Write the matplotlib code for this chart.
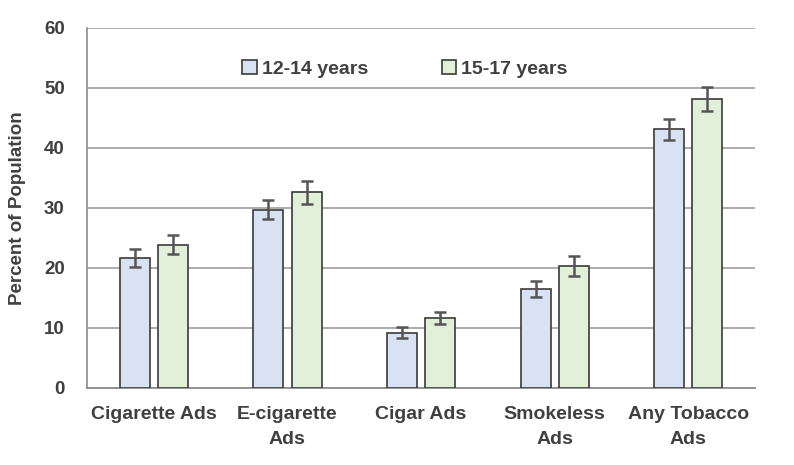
import numpy as np
import matplotlib.pyplot as plt

categories = ['Cigarette Ads', 'E-cigarette\nAds', 'Cigar Ads', 'Smokeless\nAds', 'Any Tobacco\nAds']
young = [21.6, 29.7, 9.2, 16.5, 43.1]
young_err = [1.5, 1.6, 0.9, 1.4, 1.7]
old = [23.9, 32.6, 11.6, 20.3, 48.1]
old_err = [1.6, 1.9, 1.0, 1.7, 2.0]
labels = ['12-14 years', '15-17 years']

plt.rcParams['font.family'] = ['Liberation Sans', 'DejaVu Sans']
txt = '#404040'

fig = plt.figure(figsize=(7.94, 4.65), dpi=100)
ax = fig.add_axes([0.1096, 0.1656, 0.8414, 0.7742])

x = np.arange(len(categories))
w = 0.225
ek = dict(ecolor='#555555', elinewidth=1.8, capsize=4, capthick=1.8)
ax.bar(x - 0.143, young, w, yerr=young_err, color='#d9e2f3', edgecolor='#3a3a3a',
       linewidth=1.2, label=labels[0], error_kw=ek, zorder=3)
ax.bar(x + 0.143, old, w, yerr=old_err, color='#e2efd9', edgecolor='#3a3a3a',
       linewidth=1.2, label=labels[1], error_kw=ek, zorder=3)

ax.set_xlim(-0.5, 4.5)
ax.set_ylim(0, 60)
ax.set_yticks(range(0, 61, 10))
ax.yaxis.grid(True, color='#a6a6a6', linewidth=1.3, zorder=0)
ax.set_axisbelow(True)
for s in ['top', 'right']:
    ax.spines[s].set_visible(False)
ax.spines['left'].set_color('#8c8c8c')
ax.spines['bottom'].set_color('#8c8c8c')
ax.spines['left'].set_linewidth(1.2)
ax.spines['bottom'].set_linewidth(1.3)
ax.tick_params(axis='y', length=0, pad=16, labelsize=13.5, labelcolor=txt)
ax.tick_params(axis='x', length=0, pad=13)
ax.set_xticks(x)
ax.set_xticklabels(categories, fontweight='bold', fontsize=14, color=txt, linespacing=1.6)
for t in ax.get_yticklabels():
    t.set_fontweight('bold')
ax.set_ylabel('Percent of Population', fontweight='bold', fontsize=13.5, color=txt, labelpad=13)

ax.legend(loc='upper center', bbox_to_anchor=(0.476, 0.96), ncol=2, frameon=False,
          prop={'weight': 'bold', 'size': 14}, labelcolor=txt, columnspacing=3.8,
          handlelength=0.75, handleheight=0.75, handletextpad=0.25)

plt.savefig('out.png', dpi=100)
